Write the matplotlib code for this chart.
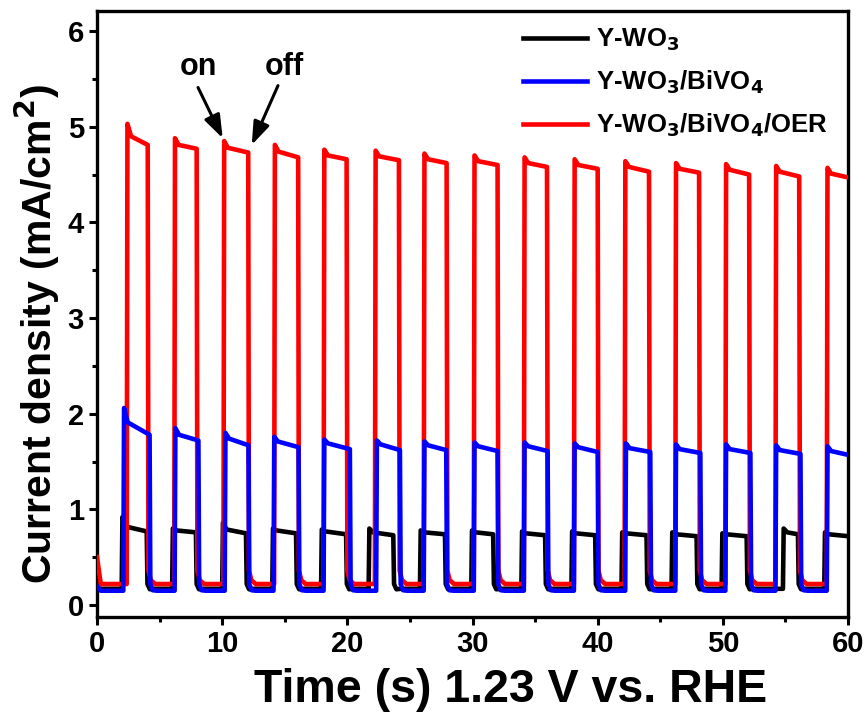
import numpy as np
import matplotlib.pyplot as plt
from matplotlib.ticker import MultipleLocator

plt.rcParams['font.family'] = ['Liberation Sans', 'DejaVu Sans']
plt.rcParams['font.weight'] = 'bold'

# light on / off times (s) and current values (mA/cm2)
red_on = [2.37, 6.17, 10.1, 14.15, 18.1, 22.2, 26.1, 30.1, 34.1, 38.1, 42.15, 46.2, 50.2, 54.2, 58.3]
red_off = [4.05, 7.96, 12.08, 16.07, 19.94, 24.12, 27.93, 32.0, 35.95, 40.0, 44.1, 48.1, 52.1, 56.1]
red_peak = [5.03, 4.88, 4.85, 4.81, 4.76, 4.75, 4.72, 4.70, 4.68, 4.66, 4.64, 4.62, 4.61, 4.59, 4.57]
red_knee = [4.90, 4.81, 4.78, 4.74, 4.70, 4.69, 4.66, 4.64, 4.62, 4.60, 4.58, 4.56, 4.55, 4.53, 4.51]
red_end = [4.81, 4.77, 4.73, 4.68, 4.66, 4.65, 4.62, 4.60, 4.58, 4.56, 4.53, 4.52, 4.50, 4.48, 4.47]

blue_on = [2.1, 6.2, 10.2, 14.1, 18.1, 22.3, 26.1, 30.1, 34.1, 38.1, 42.2, 46.2, 50.2, 54.2, 58.3]
blue_off = [4.2, 8.1, 12.1, 16.1, 20.2, 24.2, 27.9, 32.0, 36.0, 40.0, 44.2, 48.2, 52.2, 56.2]
blue_peak = [2.06, 1.85, 1.80, 1.76, 1.73, 1.72, 1.71, 1.70, 1.70, 1.69, 1.69, 1.68, 1.68, 1.67, 1.66]
blue_knee = [1.91, 1.78, 1.74, 1.71, 1.69, 1.68, 1.67, 1.66, 1.66, 1.65, 1.64, 1.63, 1.63, 1.62, 1.61]
blue_end = [1.78, 1.72, 1.67, 1.65, 1.63, 1.62, 1.62, 1.61, 1.61, 1.60, 1.60, 1.59, 1.59, 1.58, 1.57]

black_on = [1.97, 6.0, 10.0, 14.0, 17.9, 21.7, 25.8, 29.9, 33.9, 37.9, 41.9, 45.9, 49.9, 54.8, 58.1]
black_off = [3.97, 7.9, 11.9, 15.9, 19.9, 23.67, 27.8, 31.65, 35.8, 39.8, 43.9, 47.9, 51.9, 56.0]
black_peak = [0.92, 0.80, 0.86, 0.80, 0.79, 0.80, 0.78, 0.78, 0.77, 0.77, 0.76, 0.76, 0.75, 0.80, 0.76]
black_knee = [0.82, 0.78, 0.79, 0.78, 0.77, 0.76, 0.76, 0.76, 0.75, 0.75, 0.75, 0.74, 0.74, 0.76, 0.74]
black_end = [0.77, 0.76, 0.75, 0.75, 0.74, 0.73, 0.74, 0.74, 0.73, 0.73, 0.73, 0.72, 0.72, 0.74, 0.72]

# dark current: value at t=0, just after light off, and settled
red_dark = [0.50, 0.36, 0.22]
blue_dark = [0.20, 0.22, 0.15]
black_dark = [0.18, 0.22, 0.17]


def build(on, off, peak, knee, end, dark):
    t = [0, 0.3]
    y = [dark[0], dark[2]]
    for i in range(len(on)):
        t += [on[i], on[i] + 0.06, on[i] + 0.35]
        y += [dark[2], peak[i], knee[i]]
        if i < len(off):
            t += [off[i], off[i] + 0.06, off[i] + 0.25, off[i] + 0.6]
            y += [end[i], dark[1], (dark[1] + dark[2]) / 2 - 0.03, dark[2]]
        else:
            t += [60]
            y += [end[i]]
    return np.array(t), np.array(y)


fig = plt.figure(figsize=(8.67, 7.22), dpi=100)
ax = fig.add_axes([0.1119, 0.1454, 0.8662, 0.8394])

t, y = build(black_on, black_off, black_peak, black_knee, black_end, black_dark)
ax.plot(t, y, color='black', lw=3.3, label='Y-WO$_3$', zorder=2)
t, y = build(red_on, red_off, red_peak, red_knee, red_end, red_dark)
ax.plot(t, y, color='red', lw=3.3, label='Y-WO$_3$/BiVO$_4$/OER', zorder=3)
t, y = build(blue_on, blue_off, blue_peak, blue_knee, blue_end, blue_dark)
ax.plot(t, y, color='blue', lw=3.3, label='Y-WO$_3$/BiVO$_4$', zorder=4)

ax.set_xlim(0, 60)
ax.set_ylim(-0.125, 6.21)
ax.xaxis.set_major_locator(MultipleLocator(10))
ax.xaxis.set_minor_locator(MultipleLocator(5))
ax.yaxis.set_major_locator(MultipleLocator(1))
ax.yaxis.set_minor_locator(MultipleLocator(0.5))
ax.tick_params(which='both', direction='out', width=2.2, labelsize=21)
ax.tick_params(which='major', length=6)
ax.tick_params(which='minor', length=3.5)
for s in ax.spines.values():
    s.set_linewidth(2.4)

ax.set_xlabel('Time (s) 1.23 V vs. RHE', fontsize=33.5, fontweight='bold')
ax.xaxis.set_label_coords(0.551, -0.084)
ax.set_ylabel('Current density (mA/cm$^2$)', fontsize=29.5, fontweight='bold')
ax.yaxis.set_label_coords(-0.047, 0.467)

h, lab = ax.get_legend_handles_labels()
ax.legend([h[0], h[2], h[1]], [lab[0], lab[2], lab[1]], loc='upper right',
          bbox_to_anchor=(1.004, 1.012), frameon=False, fontsize=18.5, handlelength=2.5,
          handletextpad=0.35, labelspacing=0.6)

# on / off markers
ax.text(8.1, 5.47, 'on', fontsize=22, fontweight='bold', ha='center', va='bottom')
ax.text(15.0, 5.47, 'off', fontsize=22, fontweight='bold', ha='center', va='bottom')
arrow = dict(arrowstyle='-|>,head_length=0.7,head_width=0.25', color='black', lw=2.2,
             mutation_scale=20, shrinkA=0, shrinkB=0)
ax.annotate('', xy=(10.04, 4.88), xytext=(8.07, 5.41), arrowprops=arrow)
ax.annotate('', xy=(12.36, 4.81), xytext=(14.46, 5.43), arrowprops=arrow)

fig.savefig('out.png', dpi=100)
